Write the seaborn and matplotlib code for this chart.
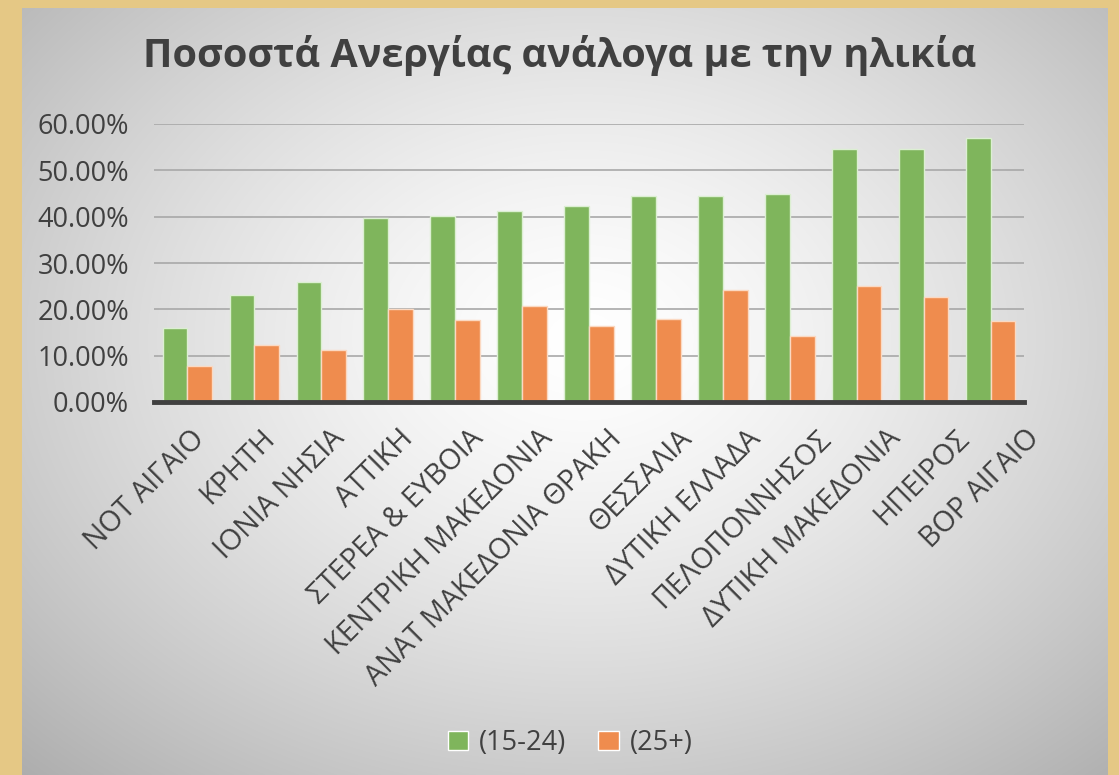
import numpy as np
import pandas as pd
import matplotlib
matplotlib.use("Agg")
import matplotlib.pyplot as plt
import matplotlib.transforms as mtrans
from matplotlib.ticker import FuncFormatter
import seaborn as sns

# data
regions = ['ΝΟΤ ΑΙΓΑΙΟ', 'ΚΡΗΤΗ', 'ΙΟΝΙΑ ΝΗΣΙΑ', 'ΑΤΤΙΚΗ', 'ΣΤΕΡΕΑ & ΕΥΒΟΙΑ',
           'ΚΕΝΤΡΙΚΗ ΜΑΚΕΔΟΝΙΑ', 'ΑΝΑΤ ΜΑΚΕΔΟΝΙΑ ΘΡΑΚΗ', 'ΘΕΣΣΑΛΙΑ', 'ΔΥΤΙΚΗ ΕΛΛΑΔΑ',
           'ΠΕΛΟΠΟΝΝΗΣΟΣ', 'ΔΥΤΙΚΗ ΜΑΚΕΔΟΝΙΑ', 'ΗΠΕΙΡΟΣ', 'ΒΟΡ ΑΙΓΑΙΟ']
young = [0.159, 0.232, 0.259, 0.398, 0.401, 0.413, 0.424, 0.445, 0.445, 0.448, 0.545, 0.546, 0.570]
older = [0.077, 0.122, 0.112, 0.201, 0.176, 0.207, 0.165, 0.179, 0.241, 0.143, 0.251, 0.226, 0.174]
series = ['(15-24)', '(25+)']
title = 'Ποσοστά Ανεργίας ανάλογα με την ηλικία'

df = pd.DataFrame({
    'region': regions * 2,
    'rate': young + older,
    'group': [series[0]] * len(regions) + [series[1]] * len(regions),
})

sns.set_style('white')
plt.rcParams['font.family'] = ['Open Sans', 'DejaVu Sans']

W, H = 1119, 775
fig = plt.figure(figsize=(W / 100, H / 100), dpi=100)
fig.patch.set_facecolor('#e5c885')

# panel with a radial grey-white gradient
bg = fig.add_axes([22 / W, 0, (1107 - 22) / W, 1 - 8 / H])
bg.set_zorder(-5)
yy, xx = np.mgrid[0:767, 0:1085]
r = np.sqrt(((xx - 560) / 700.0) ** 2 + ((yy - 330) / 520.0) ** 2)
shade = 1.0 - 0.26 * np.clip(r, 0, 1.3) ** 1.4
img = np.dstack([shade, shade, shade])
bg.imshow(img, aspect='auto', extent=[0, 1, 0, 1], origin='upper')
bg.axis('off')

ax = fig.add_axes([154 / W, 1 - 402 / H, (1024 - 154) / W, (402 - 124) / H])
ax.set_facecolor('none')

sns.barplot(data=df, x='region', y='rate', hue='group',
            palette=['#7fb55c', '#ef8c4e'], width=0.74, ax=ax,
            linewidth=1.0, saturation=1, zorder=3)
for i, cont in enumerate(ax.containers):
    for bar in cont:
        bar.set_edgecolor(['#dcefd2', '#fbd9c2'][i])

ax.set_ylim(0, 0.6)
ax.set_xlim(-0.5, len(regions) - 0.5)
ax.set_yticks(np.arange(0, 0.61, 0.1))
ax.yaxis.set_major_formatter(FuncFormatter(lambda v, p: f'{v * 100:.2f}%'))
ax.grid(axis='y', color='#a8a8a8', linewidth=1.2, zorder=0)
ax.set_axisbelow(True)
for s in ['top', 'right', 'left']:
    ax.spines[s].set_visible(False)
ax.spines['bottom'].set_color('#404040')
ax.spines['bottom'].set_linewidth(3.5)
ax.spines['bottom'].set_zorder(4)
ax.tick_params(axis='y', length=0, labelsize=19.5, labelcolor='#404040', pad=18)
ax.tick_params(axis='x', length=0, labelsize=20.7, labelcolor='#404040', pad=16)
ax.set_xlabel('')
ax.set_ylabel('')
# rotated labels drift slightly right of their bars, as in the original
for i, lab in enumerate(ax.get_xticklabels()):
    shift = mtrans.ScaledTranslation((3 + 2.6 * i) / 100, 0, fig.dpi_scale_trans)
    lab.set_rotation(45)
    lab.set_ha('right')
    lab.set_va('top')
    lab.set_rotation_mode('anchor')
    lab.set_transform(lab.get_transform() + shift)

fig.text(0.5, 1 - 55 / H, title, ha='center', va='center', fontsize=28.5,
         fontweight='bold', color='#404040')

handles, labels = ax.get_legend_handles_labels()
ax.legend(handles, labels, loc='center', bbox_to_anchor=(570 / W, 1 - 743 / H),
          bbox_transform=fig.transFigure, ncol=2, frameon=False, fontsize=19.5,
          handlelength=0.75, handleheight=0.75, handletextpad=0.4,
          columnspacing=1.2, labelcolor='#404040')

fig.savefig('out.png', dpi=100, facecolor=fig.get_facecolor())
